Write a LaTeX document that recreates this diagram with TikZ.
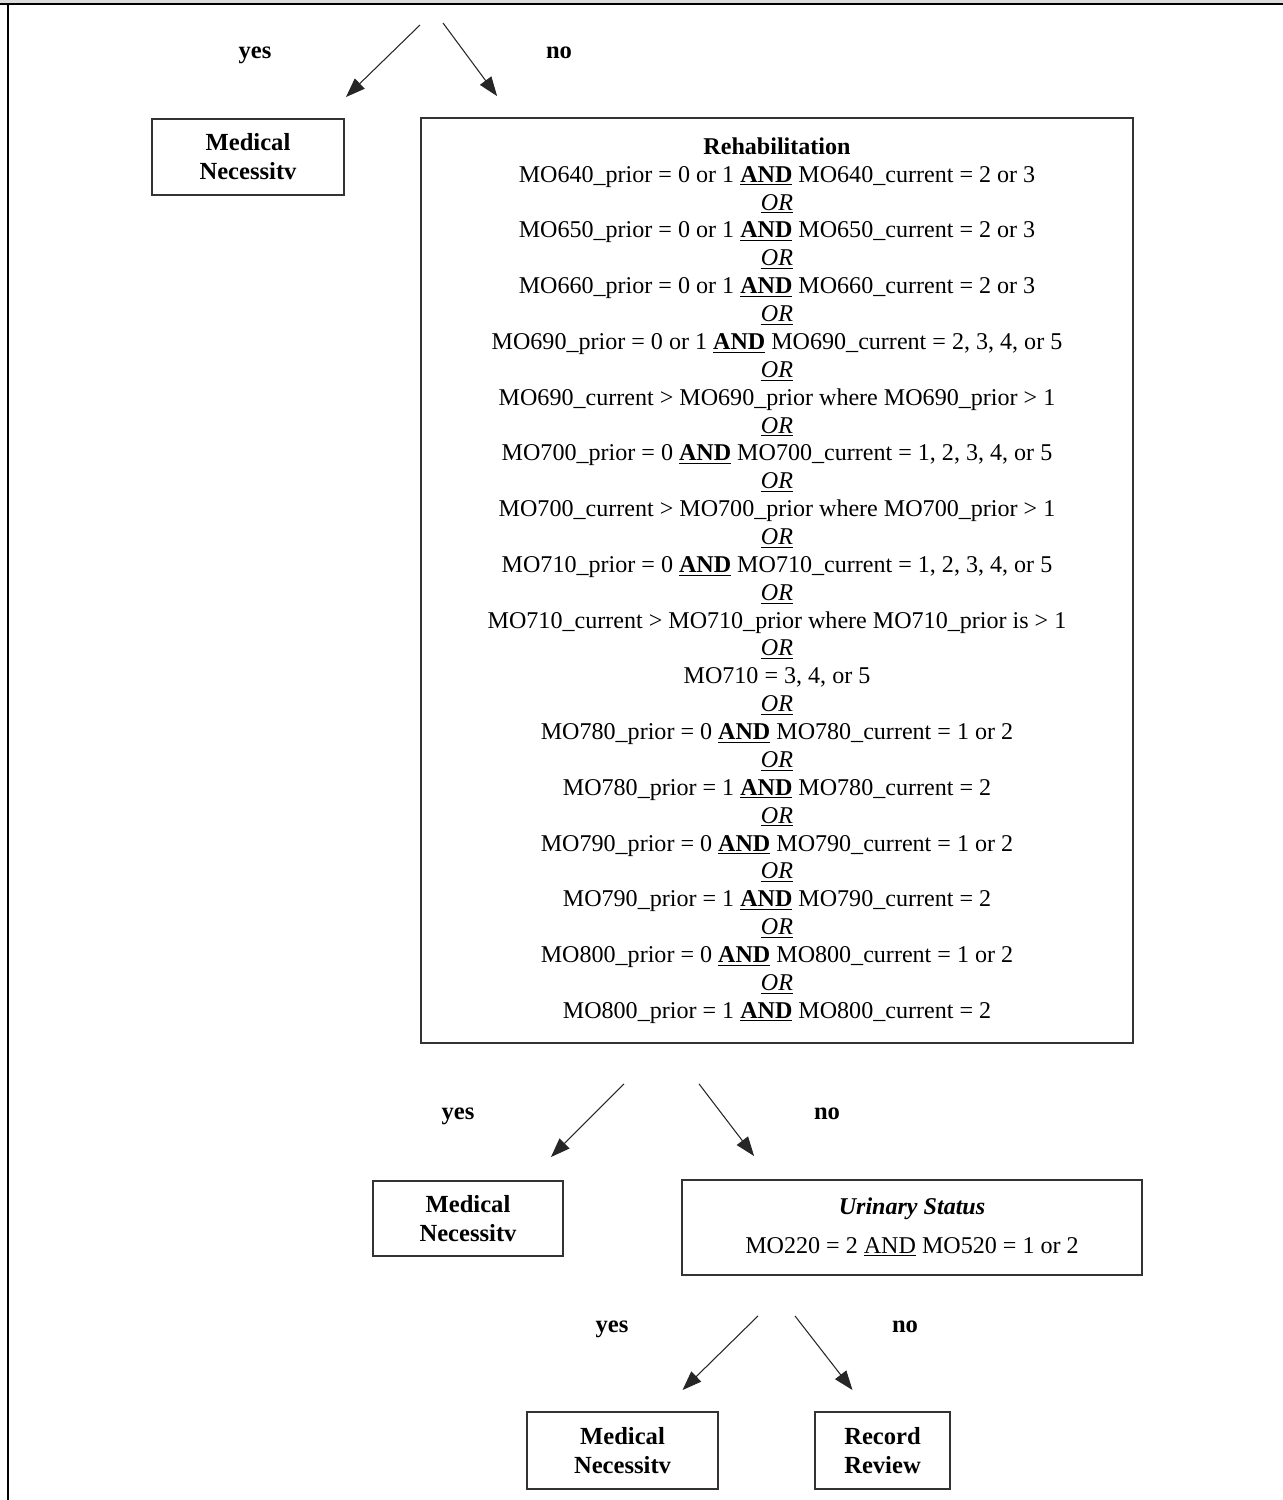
\documentclass[tikz,border=0pt]{standalone}
\usepackage{fontspec}
\setmainfont{Liberation Serif}
\usetikzlibrary{positioning, arrows.meta, calc}

\newcommand{\andu}{\underline{\textbf{AND}}}
\newcommand{\oru}{\underline{\textit{OR}}}

\begin{document}
\begin{tikzpicture}[
    x=0.02cm,
    y=-0.02cm,
    font=\fontsize{13.7}{15.86}\selectfont,
    box/.style={draw=black!80, line width=1.1pt, inner sep=0pt, align=center},
    outcome/.style={box, font=\fontsize{14}{16.5}\selectfont\bfseries, minimum height=1.52cm},
    answer/.style={font=\fontsize{14}{16}\selectfont\bfseries},
    flow/.style={-{Triangle[length=11pt, width=8pt]}, line width=0.6pt, black!85}
]

\useasboundingbox (0,0) rectangle (1283,1500);

% page frame cut off at the top
\fill[black!14] (0,0) rectangle (1283,3);
\draw[line width=1.1pt] (0,4) -- (1283,4);
\draw[line width=1.1pt] (8,4) -- (8,1500);

% first split
\node[outcome, minimum width=3.84cm] (mn1) at (248,157) {Medical\\Necessitv};

\node[box, minimum width=14.24cm, minimum height=18.5cm] (rehab) at (777,580.5) {%
    \textbf{Rehabilitation}\\
    MO640\_prior = 0 or 1 \andu{} MO640\_current = 2 or 3\\ \oru\\
    MO650\_prior = 0 or 1 \andu{} MO650\_current = 2 or 3\\ \oru\\
    MO660\_prior = 0 or 1 \andu{} MO660\_current = 2 or 3\\ \oru\\
    MO690\_prior = 0 or 1 \andu{} MO690\_current = 2, 3, 4, or 5\\ \oru\\
    MO690\_current > MO690\_prior where MO690\_prior > 1\\ \oru\\
    MO700\_prior = 0 \andu{} MO700\_current = 1, 2, 3, 4, or 5\\ \oru\\
    MO700\_current > MO700\_prior where MO700\_prior > 1\\ \oru\\
    MO710\_prior = 0 \andu{} MO710\_current = 1, 2, 3, 4, or 5\\ \oru\\
    MO710\_current > MO710\_prior where MO710\_prior is > 1\\ \oru\\
    MO710 = 3, 4, or 5\\ \oru\\
    MO780\_prior = 0 \andu{} MO780\_current = 1 or 2\\ \oru\\
    MO780\_prior = 1 \andu{} MO780\_current = 2\\ \oru\\
    MO790\_prior = 0 \andu{} MO790\_current = 1 or 2\\ \oru\\
    MO790\_prior = 1 \andu{} MO790\_current = 2\\ \oru\\
    MO800\_prior = 0 \andu{} MO800\_current = 1 or 2\\ \oru\\
    MO800\_prior = 1 \andu{} MO800\_current = 2};

\coordinate (split1 yes) at (420,25);
\coordinate (split1 no) at (443,23);
\draw[flow] (split1 yes) -- ($(mn1.north east)+(1,-21)$);
\draw[flow] (split1 no) -- ($(rehab.north west)+(77,-21)$);
\node[answer] (yes1) at (255,55) {yes};
\node[answer] (no1) at (559,53) {no};

% second split
\node[outcome, minimum width=3.8cm, minimum height=1.5cm] (mn2) at (468,1218.5) {Medical\\Necessitv};
\node[box, minimum width=9.2cm, minimum height=1.9cm] (urinary) at (912,1227.5)
    {\textbf{\textit{Urinary Status}}\\[6pt] MO220 = 2 \underline{AND} MO520 = 1 or 2};

\coordinate (split2 yes) at ($(rehab.south)+(-153,40)$);
\coordinate (split2 no) at ($(rehab.south)+(-78,40)$);
\draw[flow] (split2 yes) -- ($(mn2.north east)+(-13,-23)$);
\draw[flow] (split2 no) -- ($(urinary.north west)+(73,-23)$);
\node[answer] (yes2) at (458,1116) {yes};
\node[answer] (no2) at (827,1114) {no};

% third split
\node[outcome, minimum width=3.82cm, minimum height=1.54cm] (mn3) at (622.5,1450.5) {Medical\\Necessitv};
\node[outcome, minimum width=2.7cm, minimum height=1.54cm] (review) at (882.5,1450.5) {Record\\Review};

\coordinate (split3 yes) at ($(urinary.south)+(-154,40)$);
\coordinate (split3 no) at ($(urinary.south)+(-117,40)$);
\draw[flow] (split3 yes) -- ($(mn3.north)+(60,-21)$);
\draw[flow] (split3 no) -- ($(review.north)+(-30,-21)$);
\node[answer] (yes3) at (612,1329) {yes};
\node[answer] (no3) at (905,1327) {no};

\end{tikzpicture}
\end{document}
